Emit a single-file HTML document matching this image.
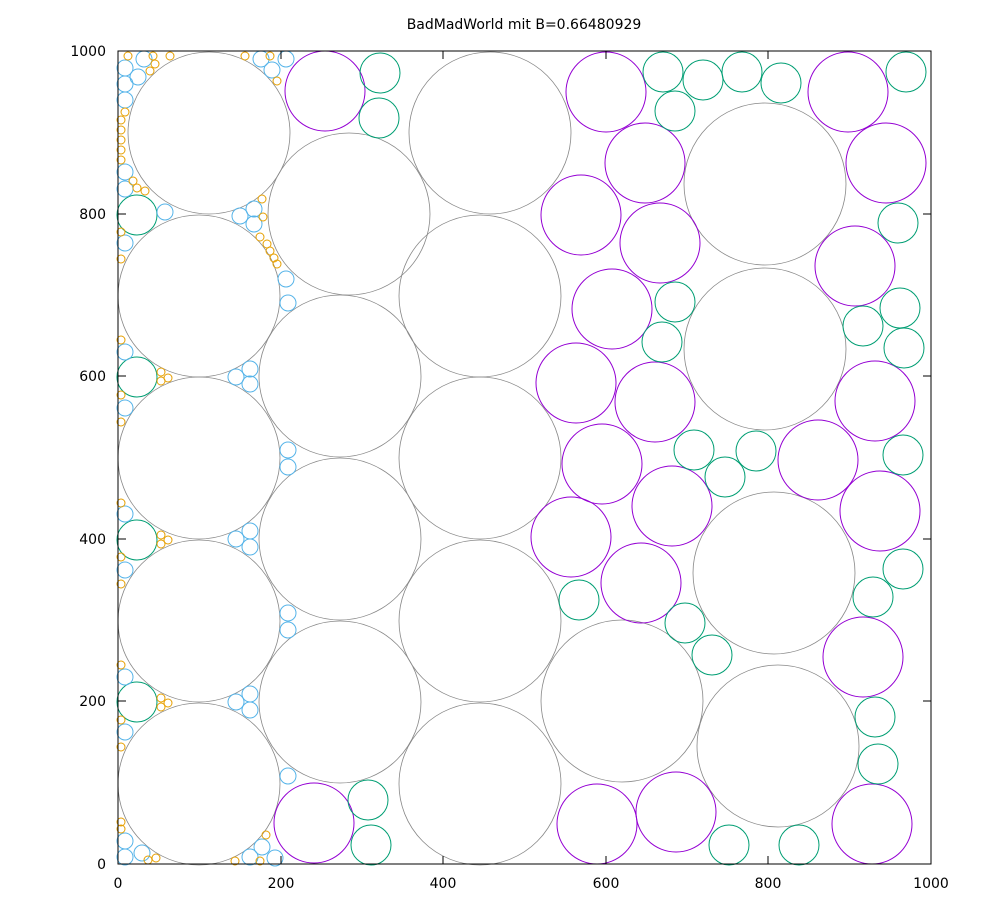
<!DOCTYPE html>
<html><head><meta charset="utf-8"><style>body{margin:0;background:#fff}svg{display:block}</style></head><body>
<svg width="1000" height="900" viewBox="0 0 1000 900" xmlns="http://www.w3.org/2000/svg" font-family="DejaVu Sans, sans-serif">
<rect width="1000" height="900" fill="#fff"/>
<text x="524" y="29" font-size="14" text-anchor="middle">BadMadWorld mit B=0.66480929</text>
<g fill="none" stroke="#888" stroke-width="0.8">
<circle cx="209" cy="133" r="81"/><circle cx="199" cy="296" r="81"/><circle cx="199" cy="458" r="81"/><circle cx="199" cy="621" r="81"/><circle cx="199" cy="784" r="81"/>
<circle cx="349" cy="214" r="81"/><circle cx="340" cy="376" r="81"/><circle cx="340" cy="539" r="81"/><circle cx="340" cy="702" r="81"/>
<circle cx="490" cy="133" r="81"/><circle cx="480" cy="296" r="81"/><circle cx="480" cy="458" r="81"/><circle cx="480" cy="621" r="81"/><circle cx="480" cy="784" r="81"/>
<circle cx="765" cy="184" r="81"/><circle cx="765" cy="349" r="81"/><circle cx="774" cy="573" r="81"/><circle cx="622" cy="701" r="81"/><circle cx="778" cy="746" r="81"/>
</g>
<g fill="none" stroke="#9400d3" stroke-width="1">
<circle cx="325" cy="91" r="40"/><circle cx="606" cy="92" r="40"/><circle cx="848" cy="92" r="40"/><circle cx="645" cy="163" r="40"/><circle cx="886" cy="163" r="40"/><circle cx="581" cy="215" r="40"/><circle cx="660" cy="243" r="40"/><circle cx="855" cy="266" r="40"/><circle cx="612" cy="309" r="40"/><circle cx="576" cy="383" r="40"/><circle cx="875" cy="401" r="40"/><circle cx="655" cy="402" r="40"/><circle cx="602" cy="464" r="40"/><circle cx="818" cy="460" r="40"/><circle cx="880" cy="511" r="40"/><circle cx="672" cy="506" r="40"/><circle cx="571" cy="537" r="40"/><circle cx="641" cy="583" r="40"/><circle cx="863" cy="657" r="40"/><circle cx="314" cy="823" r="40"/><circle cx="597" cy="824" r="40"/><circle cx="676" cy="812" r="40"/><circle cx="872" cy="824" r="40"/>
</g>
<g fill="none" stroke="#009e73" stroke-width="1">
<circle cx="380" cy="73" r="20"/><circle cx="663" cy="72" r="20"/><circle cx="703" cy="80" r="20"/><circle cx="742" cy="72" r="20"/><circle cx="781" cy="83" r="20"/><circle cx="906" cy="72" r="20"/><circle cx="379" cy="118" r="20"/><circle cx="675" cy="111" r="20"/><circle cx="898" cy="223" r="20"/><circle cx="675" cy="302" r="20"/><circle cx="900" cy="308" r="20"/><circle cx="863" cy="326" r="20"/><circle cx="904" cy="348" r="20"/><circle cx="662" cy="342" r="20"/><circle cx="694" cy="450" r="20"/><circle cx="756" cy="451" r="20"/><circle cx="725" cy="477" r="20"/><circle cx="903" cy="455" r="20"/><circle cx="579" cy="600" r="20"/><circle cx="873" cy="597" r="20"/><circle cx="903" cy="569" r="20"/><circle cx="685" cy="623" r="20"/><circle cx="712" cy="655" r="20"/><circle cx="875" cy="717" r="20"/><circle cx="878" cy="764" r="20"/><circle cx="368" cy="800" r="20"/><circle cx="371" cy="845" r="20"/><circle cx="729" cy="845" r="20"/><circle cx="799" cy="845" r="20"/><circle cx="137" cy="215" r="20"/><circle cx="137" cy="377" r="20"/><circle cx="137" cy="540" r="20"/><circle cx="137" cy="702" r="20"/>
</g>
<g fill="none" stroke="#56b4e9" stroke-width="1">
<circle cx="125" cy="68" r="8"/><circle cx="125" cy="84" r="8"/><circle cx="125" cy="100" r="8"/><circle cx="138" cy="77" r="8"/><circle cx="144" cy="59" r="8"/><circle cx="261" cy="59" r="8"/><circle cx="272" cy="70" r="8"/><circle cx="286" cy="59" r="8"/><circle cx="125" cy="172" r="8"/><circle cx="125" cy="189" r="8"/><circle cx="165" cy="212" r="8"/><circle cx="240" cy="216" r="8"/><circle cx="254" cy="209" r="8"/><circle cx="254" cy="224" r="8"/><circle cx="125" cy="243" r="8"/><circle cx="286" cy="279" r="8"/><circle cx="288" cy="303" r="8"/><circle cx="125" cy="352" r="8"/><circle cx="125" cy="408" r="8"/><circle cx="236" cy="377" r="8"/><circle cx="250" cy="369" r="8"/><circle cx="250" cy="384" r="8"/><circle cx="288" cy="450" r="8"/><circle cx="288" cy="467" r="8"/><circle cx="125" cy="514" r="8"/><circle cx="125" cy="570" r="8"/><circle cx="236" cy="539" r="8"/><circle cx="250" cy="531" r="8"/><circle cx="250" cy="547" r="8"/><circle cx="288" cy="613" r="8"/><circle cx="288" cy="630" r="8"/><circle cx="125" cy="677" r="8"/><circle cx="125" cy="732" r="8"/><circle cx="236" cy="702" r="8"/><circle cx="250" cy="694" r="8"/><circle cx="250" cy="710" r="8"/><circle cx="288" cy="776" r="8"/><circle cx="125" cy="841" r="8"/><circle cx="125" cy="857" r="8"/><circle cx="142" cy="853" r="8"/><circle cx="250" cy="857" r="8"/><circle cx="262" cy="847" r="8"/><circle cx="275" cy="858" r="8"/>
</g>
<g fill="none" stroke="#e69f00" stroke-width="1">
<circle cx="128" cy="56" r="4"/><circle cx="153" cy="56" r="4"/><circle cx="170" cy="56" r="4"/><circle cx="245" cy="56" r="4"/><circle cx="270" cy="56" r="4"/><circle cx="155" cy="64" r="4"/><circle cx="150" cy="71" r="4"/><circle cx="277" cy="81" r="4"/>
<circle cx="121" cy="120" r="4"/><circle cx="121" cy="130" r="4"/><circle cx="121" cy="140" r="4"/><circle cx="121" cy="150" r="4"/><circle cx="121" cy="160" r="4"/><circle cx="125" cy="112" r="4"/>
<circle cx="133" cy="181" r="4"/><circle cx="137" cy="188" r="4"/><circle cx="145" cy="191" r="4"/><circle cx="262" cy="199" r="4"/><circle cx="263" cy="217" r="4"/><circle cx="260" cy="237" r="4"/><circle cx="267" cy="244" r="4"/><circle cx="270" cy="251" r="4"/><circle cx="274" cy="258" r="4"/><circle cx="277" cy="264" r="4"/>
<circle cx="121" cy="232" r="4"/><circle cx="121" cy="259" r="4"/><circle cx="121" cy="340" r="4"/><circle cx="121" cy="395" r="4"/><circle cx="121" cy="422" r="4"/><circle cx="161" cy="372" r="4"/><circle cx="161" cy="381" r="4"/><circle cx="168" cy="378" r="4"/>
<circle cx="121" cy="503" r="4"/><circle cx="121" cy="557" r="4"/><circle cx="121" cy="584" r="4"/><circle cx="161" cy="535" r="4"/><circle cx="161" cy="544" r="4"/><circle cx="168" cy="540" r="4"/>
<circle cx="121" cy="665" r="4"/><circle cx="121" cy="720" r="4"/><circle cx="121" cy="747" r="4"/><circle cx="161" cy="698" r="4"/><circle cx="161" cy="707" r="4"/><circle cx="168" cy="703" r="4"/>
<circle cx="121" cy="822" r="4"/><circle cx="121" cy="829" r="4"/><circle cx="148" cy="860" r="4"/><circle cx="156" cy="858" r="4"/><circle cx="235" cy="861" r="4"/><circle cx="260" cy="861" r="4"/><circle cx="266" cy="835" r="4"/>
</g>
<rect x="118" y="51" width="813" height="813" fill="none" stroke="#000" stroke-width="1"/>
<g stroke="#000" stroke-width="1">
<path d="M118 864v-8M281 864v-8M443 864v-8M606 864v-8M768 864v-8M931 864v-8M118 51v8M281 51v8M443 51v8M606 51v8M768 51v8M931 51v8"/>
<path d="M118 864h8M118 701h8M118 539h8M118 376h8M118 214h8M118 51h8M931 864h-8M931 701h-8M931 539h-8M931 376h-8M931 214h-8M931 51h-8"/>
</g>
<g font-size="14" text-anchor="middle">
<text x="118" y="888">0</text><text x="281" y="888">200</text><text x="443" y="888">400</text><text x="606" y="888">600</text><text x="768" y="888">800</text><text x="931" y="888">1000</text>
</g>
<g font-size="14" text-anchor="end">
<text x="106" y="869">0</text><text x="106" y="706">200</text><text x="106" y="544">400</text><text x="106" y="381">600</text><text x="106" y="219">800</text><text x="106" y="56">1000</text>
</g>
</svg>
</body></html>
